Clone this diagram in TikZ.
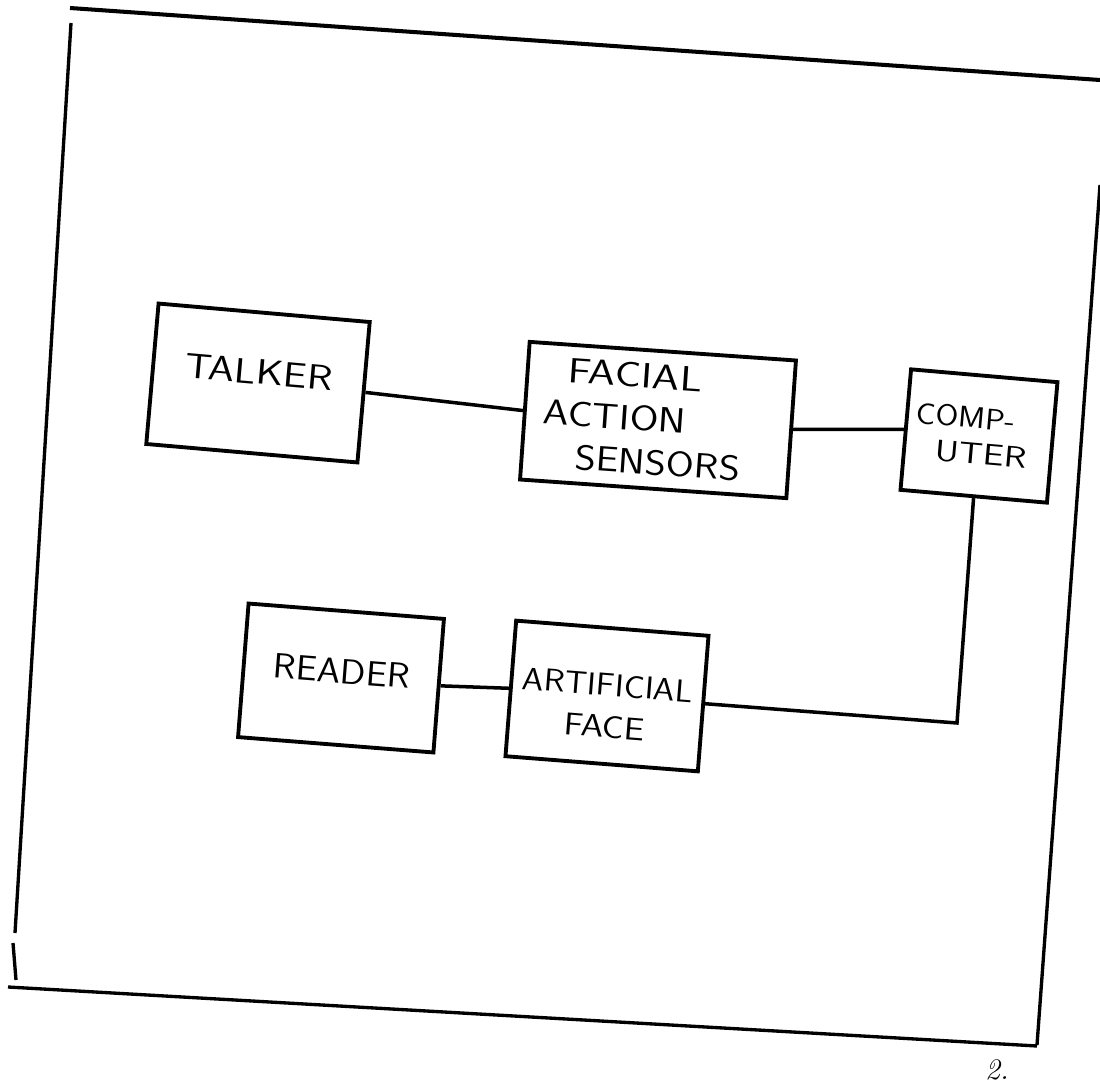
\documentclass[tikz,border=0pt]{standalone}
\usepackage{tikz}

\begin{document}
\begin{tikzpicture}[x=0.02cm,y=-0.02cm,
		blok/.style={draw, line width=2.2pt, rotate=-4.5, inner sep=0pt, font=\sffamily\fontsize{20}{23}\selectfont},
		wire/.style={line width=2pt},
		frame/.style={line width=1.9pt}]
		\useasboundingbox (0,0) rectangle (1100,1085);
		% outer sheet frame
		\draw[frame, line width=2.3pt](70,8) -- (1100,80);
		\draw[frame](71,23) -- (15,933);
		\draw[frame](13,943) -- (16,980);
		\draw[frame](8,987) -- (1037,1046);
		\draw[frame](1100,185) -- (1037,1045);
		\node (pagenum) at (997,1070) {\fontsize{17}{20}\selectfont\itshape 2.};
		% boxes
		\node[blok, rotate=-0.5, minimum width=4.24cm, minimum height=2.82cm] (talker) at (258,383)
			{\scalebox{1.2}[1]{TALKER}\rule[-0.44cm]{0pt}{0.44cm}};
		\node[blok, rotate=0.5, minimum width=5.34cm, minimum height=2.76cm, align=left,
			font=\sffamily\fontsize{20}{24.5}\selectfont] (fas) at (658,420)
			{\hspace{0.45cm}\scalebox{1.25}[1]{FACIAL}\\\scalebox{1.18}[1]{ACTION}\\
			\hspace{0.7cm}\scalebox{1.15}[1]{SENSORS}\hspace*{0.6cm}};
		\node[blok, rotate=-0.5, minimum width=2.94cm, minimum height=2.42cm, align=left,
			font=\sffamily\fontsize{17}{20}\selectfont] (comp) at (979,436)
			{\scalebox{1.1}[1]{COMP-}\\\hspace{0.46cm}\scalebox{1.25}[1]{UTER}\hspace*{0.3cm}};
		\node[blok, minimum width=3.92cm, minimum height=2.68cm] (reader) at (341,678)
			{\scalebox{1.07}[1]{READER}\rule[-0.28cm]{0pt}{0.28cm}};
		\node[blok, minimum width=3.86cm, minimum height=2.72cm, align=center,
			font=\sffamily\fontsize{18}{24}\selectfont] (face) at (607,696)
			{\rule{0pt}{0.84cm}\scalebox{1.1}[1]{ARTIFICIAL}\\\scalebox{1.15}[1]{FACE}};
		\coordinate (bend) at (957,723);
		% connections
		\draw[wire](talker.east) -- (fas.west);
		\draw[wire](fas.east) -- (comp.west);
		\draw[wire](comp.south) -- (bend) -- (face.east);
		\draw[wire](reader.east) -- (face.west);
	\end{tikzpicture}
\end{document}
